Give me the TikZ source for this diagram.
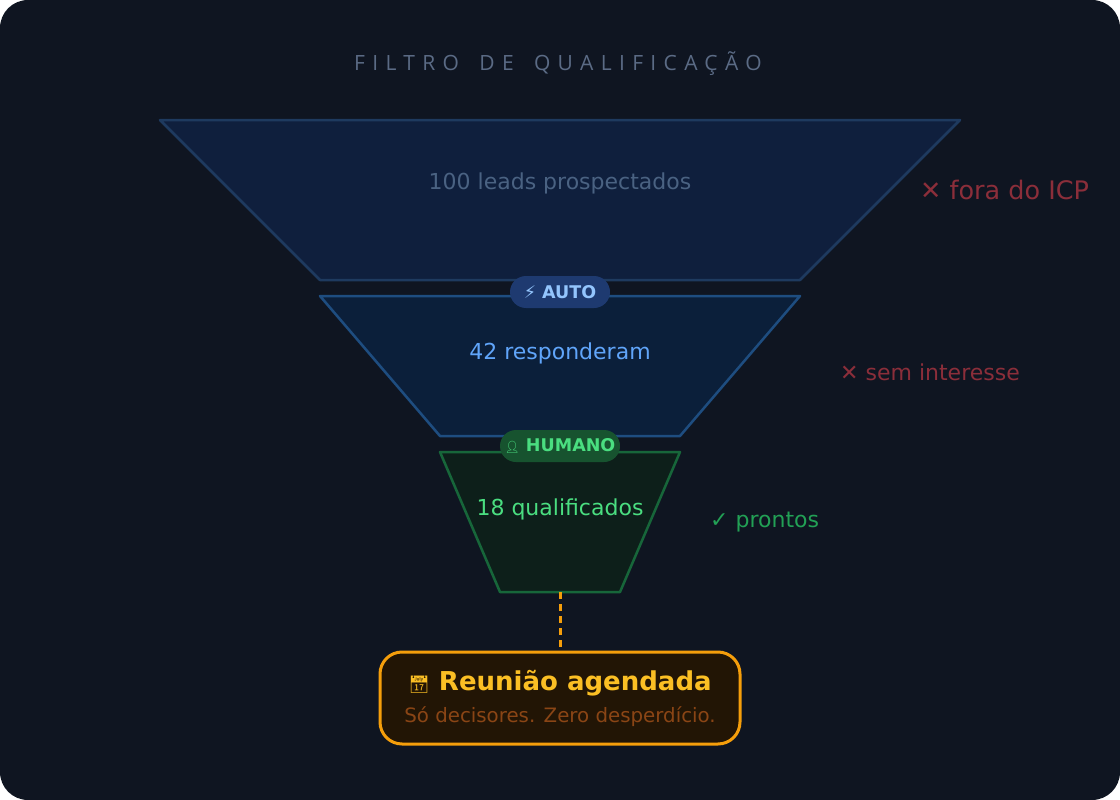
\documentclass[tikz,border=0pt]{standalone}
\usepackage{fontspec}
\setmainfont{DejaVu Sans}
\newfontfamily\titlefont[LetterSpace=35]{Open Sans}
\newfontfamily\emojifont{Noto Emoji}
\definecolor{bgc}{HTML}{0F1521}
\definecolor{titlec}{HTML}{5B6B85}
\definecolor{fafill}{HTML}{0F1F3D}
\definecolor{fadraw}{HTML}{1E3A5F}
\definecolor{fatext}{HTML}{4A6282}
\definecolor{fbfill}{HTML}{0B1F3A}
\definecolor{fbdraw}{HTML}{1E4D80}
\definecolor{fbtext}{HTML}{60A5FA}
\definecolor{fcfill}{HTML}{0D1F1A}
\definecolor{fcdraw}{HTML}{17663A}
\definecolor{fctext}{HTML}{4ADE80}
\definecolor{autofill}{HTML}{1E3A70}
\definecolor{autotext}{HTML}{93C5FD}
\definecolor{humfill}{HTML}{17532F}
\definecolor{redc}{HTML}{8B2E3A}
\definecolor{greenc}{HTML}{22A055}
\definecolor{orangec}{HTML}{F59E0B}
\definecolor{boxfill}{HTML}{221505}
\definecolor{goldc}{HTML}{FBBF24}
\definecolor{brownc}{HTML}{8A4515}
\tikzset{
  funnel/.style={line width=2.5pt, line join=round},
  pill/.style={rounded corners=16pt, inner sep=0pt, minimum height=32pt, font=\fontsize{17.5}{20}\selectfont\bfseries},
  lbl/.style={inner sep=0pt, font=\fontsize{22}{26}\selectfont},
  side/.style={inner sep=0pt, anchor=west},
}
\begin{document}
\begin{tikzpicture}[x=1pt,y=-1pt]
\fill[bgc, rounded corners=28pt] (0,0) rectangle (1120,800);
\useasboundingbox (0,0) rectangle (1120,800);
% title
\node[anchor=base west, text=titlec, inner sep=0pt] (title) at (354,71) {\titlefont\fontsize{21}{25}\selectfont FILTRO\hspace{7.5pt} DE\hspace{7.5pt} QUALIFICAÇÃO};
% funnel stage 1
\filldraw[funnel, fill=fafill, draw=fadraw] (160,120) -- (960,120) -- (800,280) -- (320,280) -- cycle;
\node[lbl, text=fatext] (t1) at (560,183) {100 leads prospectados};
% funnel stage 2
\filldraw[funnel, fill=fbfill, draw=fbdraw] (320,296) -- (800,296) -- (680,436) -- (440,436) -- cycle;
\node[lbl, text=fbtext] (t2) at (560,353) {42 responderam};
% funnel stage 3
\filldraw[funnel, fill=fcfill, draw=fcdraw] (440,452) -- (680,452) -- (620,592) -- (500,592) -- cycle;
\node[lbl, text=fctext] (t3) at (560,509) {18 qualificados};
\coordinate (f3b) at (560,592);
% badges
\node[pill, fill=autofill, text=autotext, minimum width=100pt] (auto) at (560,292) {⚡ AUTO};
\node[pill, fill=humfill, text=fctext, minimum width=120pt] (hum) at (560,446) {{\emojifont\fontsize{12}{14}\selectfont 👤} HUMANO};
% side labels
\node[side, text=redc, font=\fontsize{25.5}{30}\selectfont] (s1) at (920,190) {✕ fora do ICP};
\node[side, text=redc, font=\fontsize{22}{26}\selectfont] (s2) at (840,372) {✕ sem interesse};
\node[side, text=greenc, font=\fontsize{22}{26}\selectfont] (s3) at (710,522) {✓ prontos};
% result box
\node[draw=orangec, fill=boxfill, line width=3pt, rounded corners=22pt, minimum width=360pt, minimum height=92pt] (box) at (560,698) {};
\node[inner sep=0pt, text=goldc, font=\fontsize{26}{30}\selectfont\bfseries] (bt) at (560,683) {{\emojifont\fontsize{17}{20}\selectfont 📅} Reunião agendada};
\node[inner sep=0pt, text=brownc, font=\fontsize{19.8}{23}\selectfont] (bs) at (560,717) {Só decisores. Zero desperdício.};
\draw[orangec, line width=3pt, dash pattern=on 7pt off 5pt] (f3b) -- (box.north);
\end{tikzpicture}
\end{document}
